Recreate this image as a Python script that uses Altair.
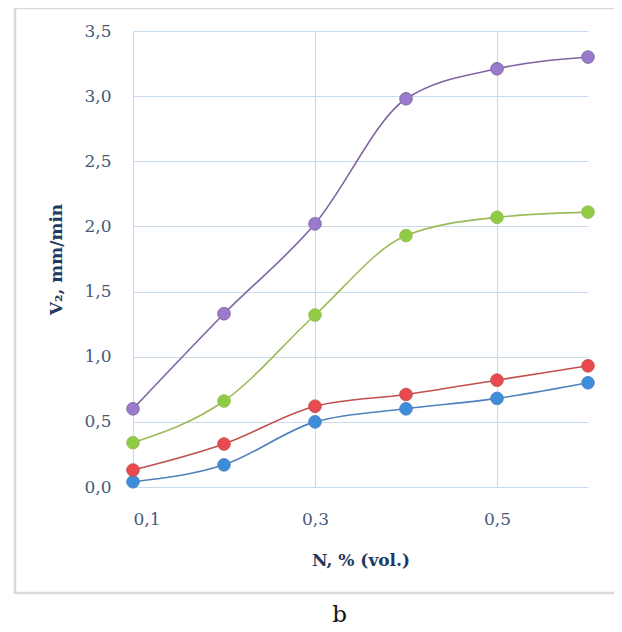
import altair as alt
import pandas as pd

# Data
n_values = [0.1, 0.2, 0.3, 0.4, 0.5, 0.6]
series_blue = [0.04, 0.17, 0.50, 0.60, 0.68, 0.80]
series_red = [0.13, 0.33, 0.62, 0.71, 0.82, 0.93]
series_green = [0.34, 0.66, 1.32, 1.93, 2.07, 2.11]
series_purple = [0.60, 1.33, 2.02, 2.98, 3.21, 3.30]
series_names = ["1", "2", "3", "4"]
line_colors = ["#4f81bd", "#c0504d", "#9bbb59", "#8064a2"]
point_colors = ["#3e8ddb", "#ea4a4f", "#8fcb45", "#9a7bcb"]
x_ticks = [0.1, 0.3, 0.5]
y_ticks = [0.0, 0.5, 1.0, 1.5, 2.0, 2.5, 3.0, 3.5]

rows = []
for name, vals in zip(series_names, [series_blue, series_red, series_green, series_purple]):
    for n, v in zip(n_values, vals):
        rows.append({"series": name, "N": n, "V": v})
df = pd.DataFrame(rows)

W, H = 455, 456
LABEL_FONT = "DejaVu Serif"
comma_expr = "replace(format(datum.value, '.1f'), '.', ',')"

x_enc = alt.X(
    "N:Q",
    scale=alt.Scale(domain=[0.1, 0.6], nice=False, zero=False),
    axis=alt.Axis(
        values=x_ticks, labelExpr=comma_expr, title="N, % (vol.)",
        grid=True, domain=False, ticks=False, labelPadding=24,
        titlePadding=25,
    ),
)
y_enc = alt.Y(
    "V:Q",
    scale=alt.Scale(domain=[0, 3.5], nice=False),
    axis=alt.Axis(
        values=y_ticks, labelExpr=comma_expr, title="V₂, mm/min",
        grid=True, domain=False, ticks=False, labelPadding=22,
        titlePadding=18,
    ),
)

base = alt.Chart(df)

lines = base.mark_line(interpolate="monotone", strokeWidth=1.6).encode(
    x=x_enc, y=y_enc,
    color=alt.Color("series:N", scale=alt.Scale(domain=series_names, range=line_colors), legend=None),
    detail="series:N",
)

points = base.mark_point(filled=True, size=160, opacity=1, strokeWidth=0.9).encode(
    x="N:Q", y="V:Q",
    fill=alt.Fill("series:N", scale=alt.Scale(domain=series_names, range=point_colors), legend=None),
    stroke=alt.Stroke("series:N", scale=alt.Scale(domain=series_names, range=line_colors), legend=None),
    order=alt.Order("series:N"),
)

frame_data = alt.Data(values=[{"k": 1}])
frame_style = dict(color="#dadada", strokeWidth=2.5)
frame_top = alt.Chart(frame_data).mark_rule(**frame_style).encode(
    x=alt.value(-118), x2=alt.value(481), y=alt.value(-23)
)
frame_bottom = alt.Chart(frame_data).mark_rule(**frame_style).encode(
    x=alt.value(-118), x2=alt.value(481), y=alt.value(562)
)
frame_left = alt.Chart(frame_data).mark_rule(**frame_style).encode(
    x=alt.value(-118), y=alt.value(-24), y2=alt.value(563)
)

chart = alt.layer(frame_top, frame_bottom, frame_left, lines, points).resolve_scale(
    color="independent"
).properties(
    width=W,
    height=H,
    padding={"left": 125, "top": 23, "right": 26, "bottom": 150},
    autosize=alt.AutoSizeParams(type="none"),
    background="white",
    title=alt.TitleParams(
        "b", orient="bottom", anchor="middle", font=LABEL_FONT, fontSize=23,
        fontWeight="normal", color="#111111", offset=9, dx=-21,
    ),
).configure_view(
    stroke=None
).configure_axis(
    gridColor="#c9dcee", gridWidth=1.2,
    labelFont=LABEL_FONT, labelFontSize=17, labelColor="#465a78",
    titleFont=LABEL_FONT, titleFontSize=17, titleFontWeight="bold", titleColor="#1f3a60",
)

chart.save("out.html", embed_options={"renderer": "svg", "actions": False})
